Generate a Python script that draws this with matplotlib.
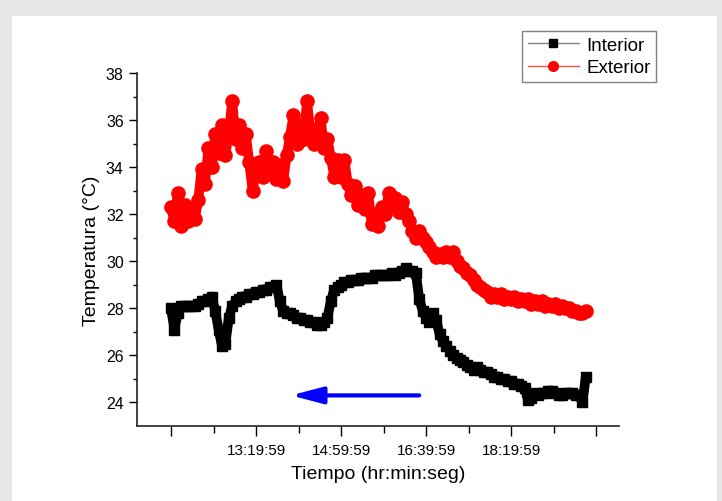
import matplotlib.pyplot as plt
import numpy as np
from matplotlib.lines import Line2D
from matplotlib.patches import Rectangle

plt.rcParams['font.family'] = ['Liberation Sans', 'DejaVu Sans']

# minutes after 11:39:59, one reading every 4 min
step = 4
interior = [28.0, 27.1, 27.8, 28.1, 28.1, 28.1, 28.1, 28.1, 28.2, 28.3,
            28.3, 28.4, 28.5, 27.9, 27.1, 26.4, 26.5, 27.6, 28.1, 28.3,
            28.4, 28.5, 28.5, 28.6, 28.6, 28.7, 28.7, 28.8, 28.8, 28.9,
            28.9, 29.0, 28.3, 27.9, 27.8, 27.8, 27.7, 27.6, 27.6, 27.5,
            27.5, 27.4, 27.4, 27.3, 27.3, 27.4, 27.6, 28.3, 28.8, 28.9,
            29.0, 29.1, 29.1, 29.2, 29.2, 29.2, 29.3, 29.3, 29.3, 29.3,
            29.4, 29.4, 29.4, 29.4, 29.4, 29.5, 29.4, 29.5, 29.6, 29.7,
            29.6, 29.6, 29.5, 28.4, 27.9, 27.6, 27.4, 27.8, 27.5, 26.9,
            26.6, 26.4, 26.2, 26.0, 25.9, 25.8, 25.7, 25.6, 25.5, 25.4,
            25.5, 25.4, 25.3, 25.3, 25.2, 25.1, 25.1, 25.0, 25.0, 24.9,
            24.9, 24.8, 24.8, 24.7, 24.6, 24.1, 24.2, 24.4, 24.3, 24.4,
            24.4, 24.5, 24.5, 24.4, 24.3, 24.3, 24.4, 24.4, 24.4, 24.3,
            24.3, 24.0, 25.1]
exterior = [32.3, 31.7, 32.9, 31.5, 32.4, 31.7, 32.2, 31.8, 32.6, 33.9,
            33.3, 34.8, 34.0, 35.4, 34.6, 35.8, 34.5, 35.5, 36.8, 35.2,
            35.8, 34.8, 35.4, 34.2, 33.0, 33.8, 34.2, 33.6, 34.7, 33.8,
            34.2, 33.5, 34.1, 33.4, 34.5, 35.3, 36.2, 35.0, 35.8, 35.2,
            36.8, 35.5, 35.0, 35.4, 36.1, 34.8, 35.2, 34.4, 33.6, 34.3,
            33.6, 34.3, 33.3, 32.8, 33.2, 32.4, 32.8, 32.2, 32.9, 31.6,
            32.0, 31.5, 32.3, 32.0, 32.9, 32.3, 32.7, 32.1, 32.5, 32.0,
            31.7, 31.3, 31.0, 31.3, 31.0, 30.8, 30.6, 30.4, 30.2, 30.3,
            30.2, 30.4, 30.2, 30.4, 30.0, 29.8, 29.7, 29.5, 29.4, 29.2,
            29.0, 28.9, 28.8, 28.7, 28.5, 28.6, 28.5, 28.6, 28.4, 28.5,
            28.4, 28.5, 28.3, 28.4, 28.3, 28.4, 28.2, 28.3, 28.2, 28.3,
            28.1, 28.2, 28.1, 28.2, 28.0, 28.1, 28.0, 28.0, 27.9, 27.9,
            27.8, 27.8, 27.9]
t_int = np.arange(len(interior)) * step
t_ext = np.arange(len(exterior)) * step

xticks = [0, 100, 200, 300, 400, 500]
xlabels = ['', '13:19:59', '14:59:59', '16:39:59', '18:19:59', '']

fig = plt.figure(figsize=(7.22, 5.02), dpi=100, facecolor='#e6e7e9')
fig.patches.append(Rectangle((12/722, 0), 705/722, 485/502, transform=fig.transFigure,
                             facecolor='white', edgecolor='none', zorder=-10))
ax = fig.add_axes([137/722, 75/502, 482/722, 353/502])
ax.patch.set_alpha(0)

ax.plot(t_int, interior, color='black', lw=7, marker='s', ms=7.5,
        solid_joinstyle='round', solid_capstyle='butt')
ax.plot(t_ext, exterior, color='red', lw=7, marker='o', ms=9.5,
        solid_joinstyle='round', solid_capstyle='round')

ax.annotate('', xy=(141, 24.3), xytext=(292, 24.3),
            arrowprops=dict(arrowstyle='-|>,head_length=1.9,head_width=0.5',
                            color='blue', lw=3, mutation_scale=10, shrinkA=0, shrinkB=0))

ax.set_xlim(-40, 527)
ax.set_ylim(23, 38)
ax.set_xticks(xticks)
ax.set_xticklabels(xlabels)
ax.set_xticks(np.arange(50, 500, 100), minor=True)
ax.set_yticks(np.arange(24, 39, 2))
ax.set_yticks(np.arange(25, 38, 2), minor=True)

for s in ['top', 'right']:
    ax.spines[s].set_visible(False)
for s in ['left', 'bottom']:
    ax.spines[s].set_linewidth(1.2)
    ax.spines[s].set_color('#222222')

ax.tick_params(axis='x', which='major', length=7, width=1, labelsize=11, pad=5)
ax.tick_params(axis='x', which='minor', length=5, width=1)
ax.tick_params(axis='y', which='major', length=5.5, width=1, labelsize=11.5, pad=4)
ax.tick_params(axis='y', which='minor', length=3, width=1)

ax.set_xlabel('Tiempo (hr:min:seg)', fontsize=14, labelpad=6)
ax.set_ylabel('Temperatura (°C)', fontsize=14, labelpad=4)

handles = [Line2D([], [], color='gray', lw=1, marker='s', ms=6, mfc='black', mec='black'),
           Line2D([], [], color='#ff5050', lw=1, marker='o', ms=7, mfc='red', mec='red')]
leg = fig.legend(handles, ['Interior', 'Exterior'], loc='upper right',
                 bbox_to_anchor=(656/722, 1 - 32/502), fontsize=13.5, frameon=True,
                 fancybox=False, edgecolor='gray', framealpha=1, handlelength=2.7,
                 handletextpad=0.4, borderpad=0.3, labelspacing=0.3, borderaxespad=0)
leg.get_frame().set_linewidth(1)

plt.savefig('out.png', dpi=100, facecolor=fig.get_facecolor())
